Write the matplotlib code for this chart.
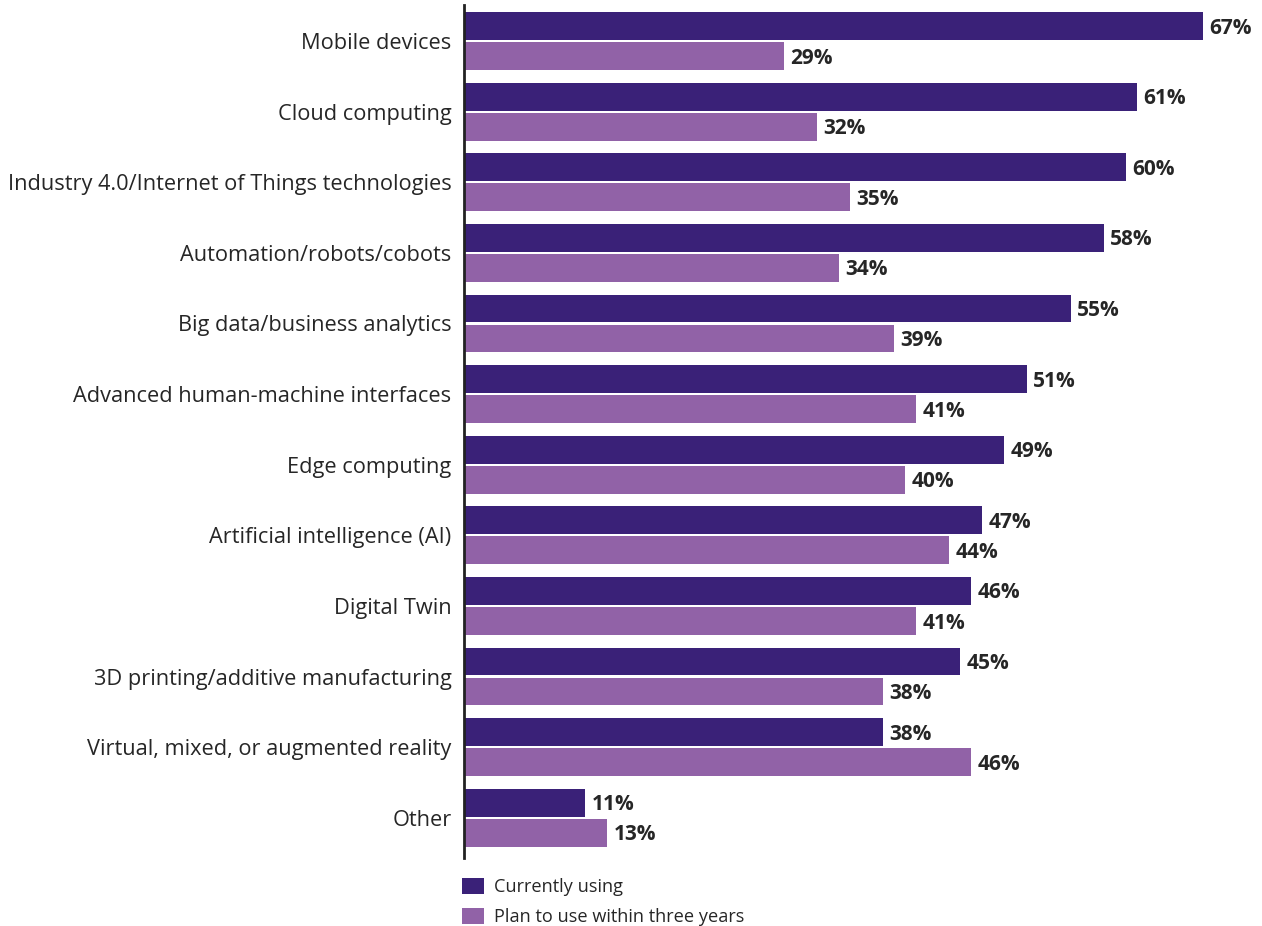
import numpy as np
import matplotlib
matplotlib.use("Agg")
import matplotlib.pyplot as plt
from matplotlib.patches import Patch

plt.rcParams["font.family"] = ["Open Sans", "Noto Sans", "DejaVu Sans"]

categories = [
    "Mobile devices",
    "Cloud computing",
    "Industry 4.0/Internet of Things technologies",
    "Automation/robots/cobots",
    "Big data/business analytics",
    "Advanced human-machine interfaces",
    "Edge computing",
    "Artificial intelligence (AI)",
    "Digital Twin",
    "3D printing/additive manufacturing",
    "Virtual, mixed, or augmented reality",
    "Other",
]
currently_using = [67, 61, 60, 58, 55, 51, 49, 47, 46, 45, 38, 11]
plan_to_use = [29, 32, 35, 34, 39, 41, 40, 44, 41, 38, 46, 13]
series_names = ["Currently using", "Plan to use within three years"]

DARK = "#3a2178"
LIGHT = "#9162a7"
TXT = "#262626"

W, H = 1262, 926
fig = plt.figure(figsize=(W / 100, H / 100), dpi=100)
ax = fig.add_axes([464 / W, 1 - 858 / H, (W - 464) / W, (858 - 5) / H])

y = np.arange(len(categories))
h = 0.395
off = 0.2125
b1 = ax.barh(y - off, currently_using, height=h, color=DARK)
b2 = ax.barh(y + off, plan_to_use, height=h, color=LIGHT)

# value labels just past the end of each bar
for bars, vals in ((b1, currently_using), (b2, plan_to_use)):
    for rect, v in zip(bars, vals):
        ax.annotate(f"{v}%", (rect.get_width(), rect.get_y() + rect.get_height() / 2),
                    xytext=(4.5, -1.5), textcoords="offset points", va="center", ha="left",
                    fontsize=15, fontweight="bold", color=TXT)

ax.set_xlim(0, 72.35)
ax.set_ylim(len(categories) - 1 + 0.57, -0.51)
ax.set_yticks(y, categories, fontsize=15.7, color=TXT)
ax.tick_params(axis="y", length=0, pad=9)
ax.set_xticks([])
for s in ("top", "right", "bottom"):
    ax.spines[s].set_visible(False)
ax.spines["left"].set_linewidth(2)
ax.spines["left"].set_color("#222222")

handles = [Patch(facecolor=DARK), Patch(facecolor=LIGHT)]
fig.legend(handles, series_names, loc="upper left", bbox_to_anchor=(462 / W, 1 - 878 / H),
           frameon=False, fontsize=13.1, handlelength=1.2, handleheight=0.97,
           handletextpad=0.58, labelspacing=0.64, borderpad=0, borderaxespad=0,
           labelcolor=TXT)

fig.savefig("out.png", dpi=100)
